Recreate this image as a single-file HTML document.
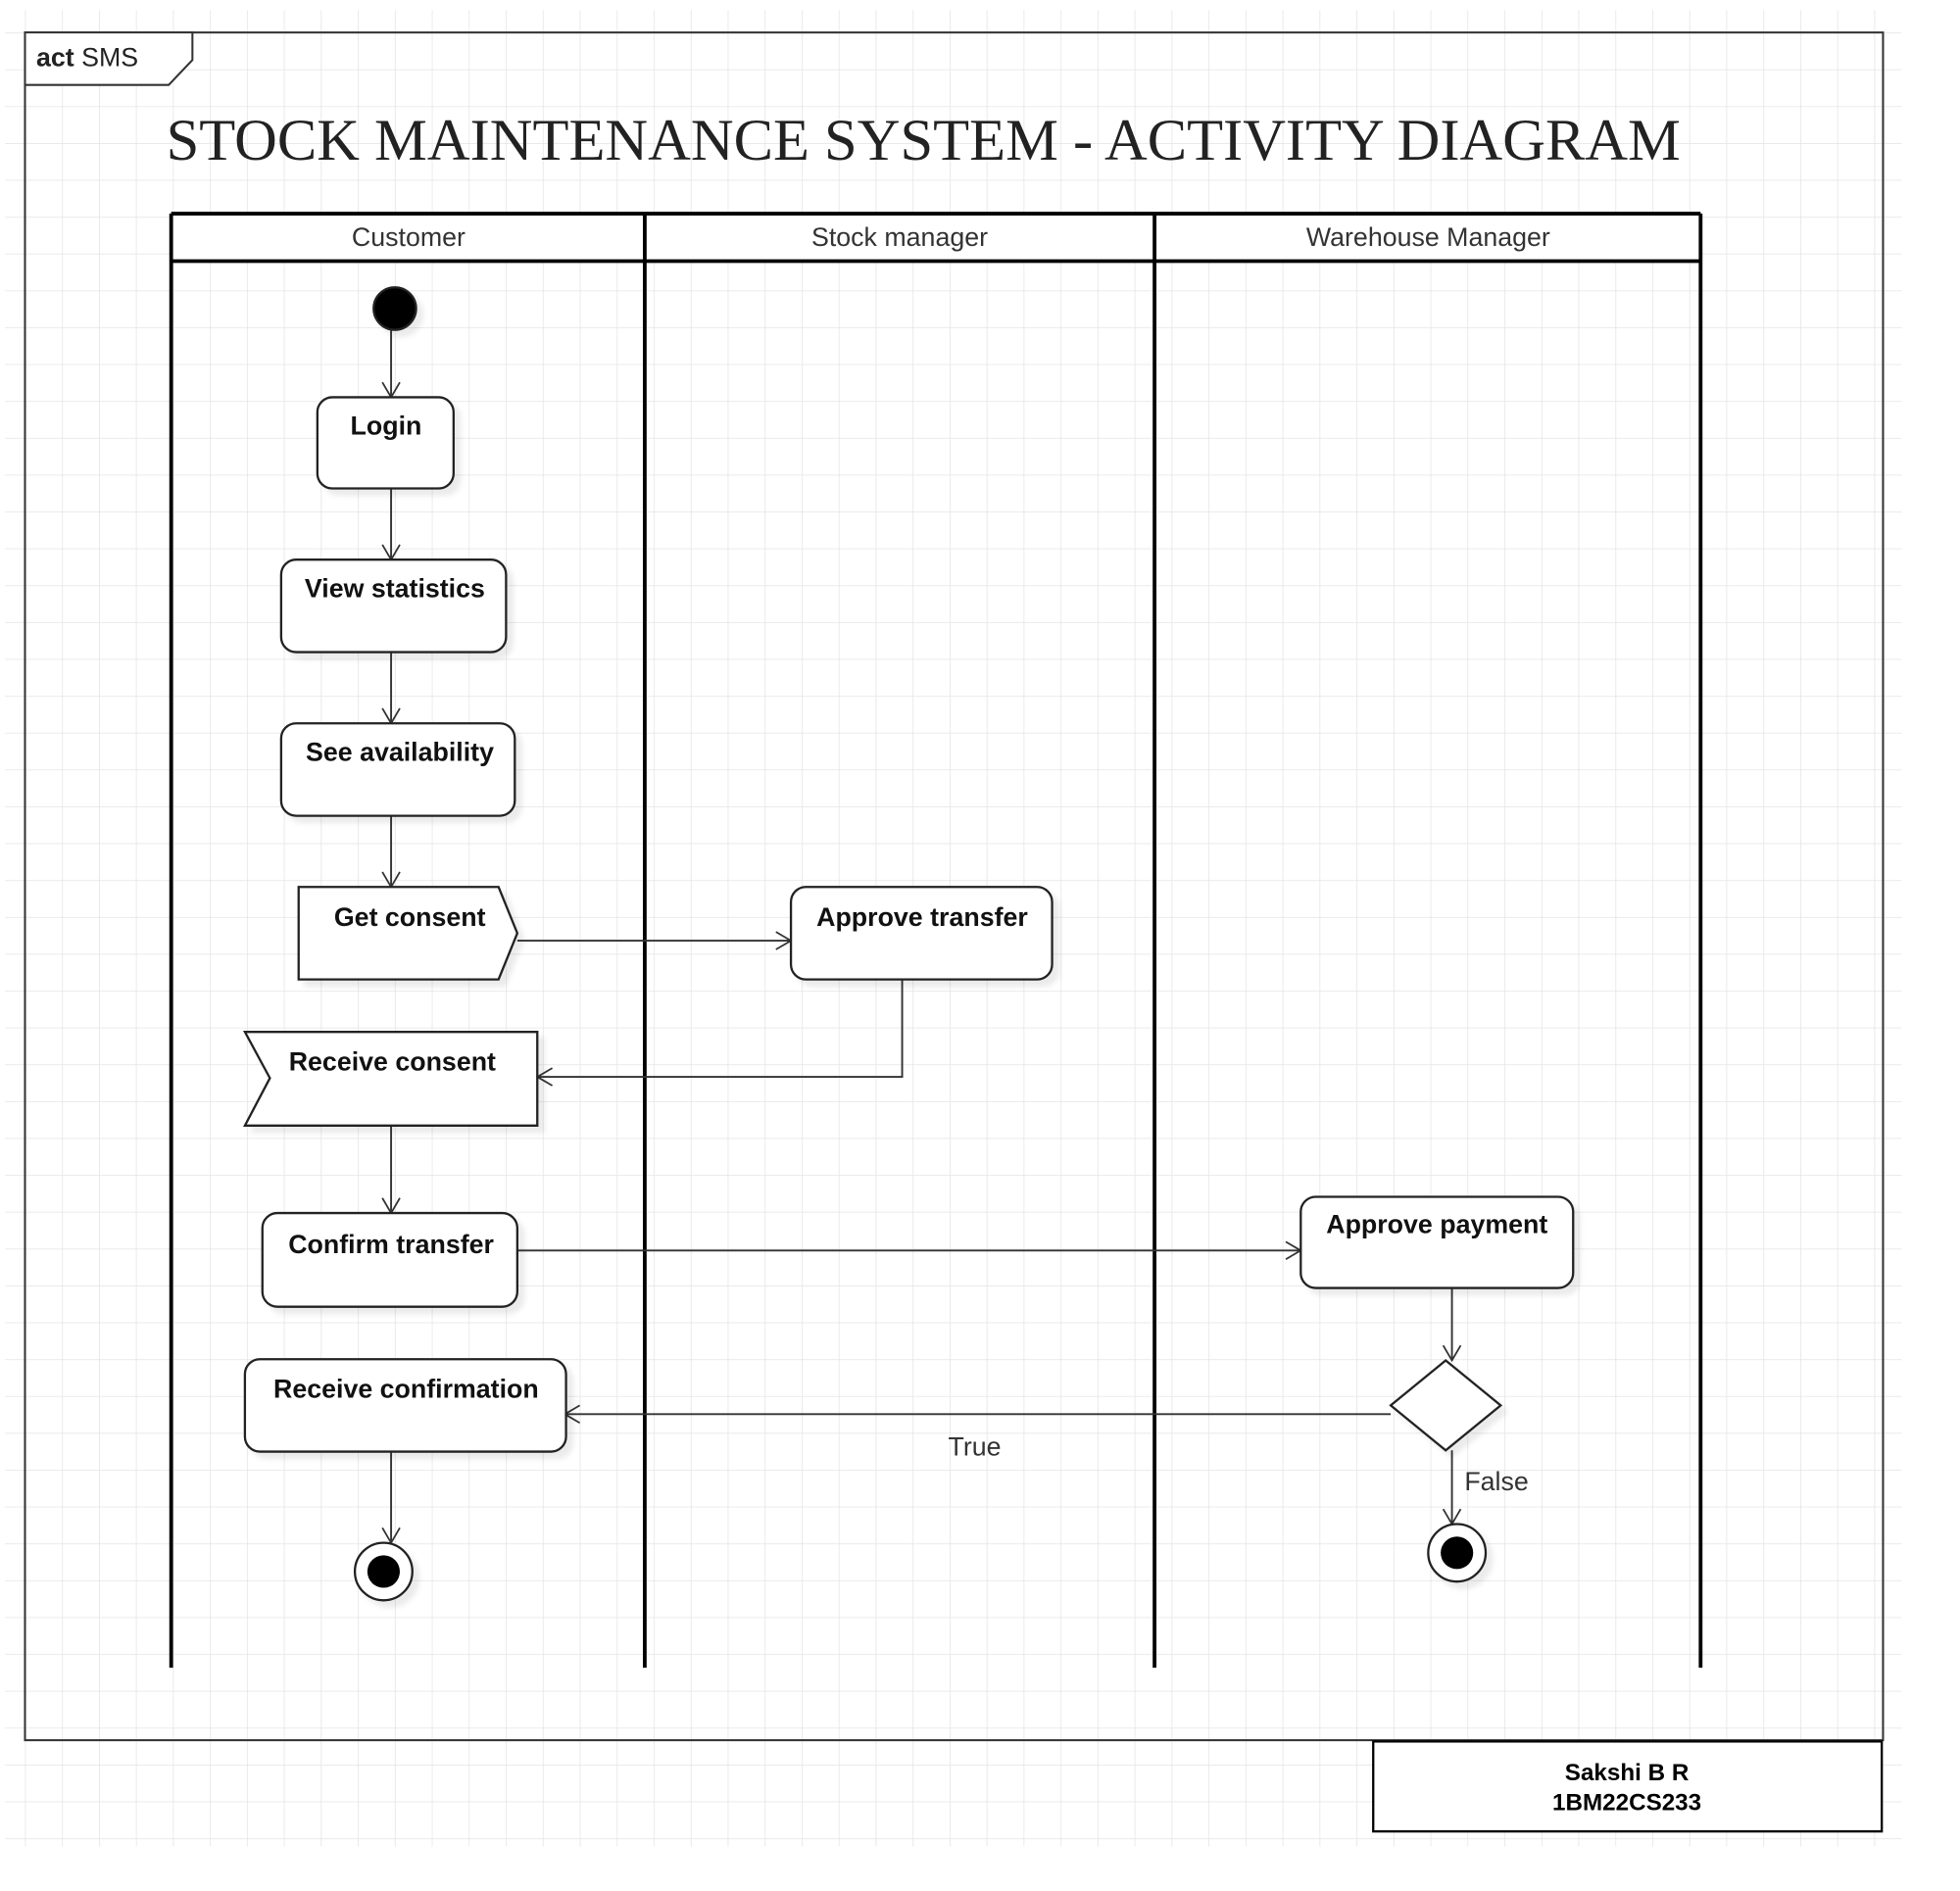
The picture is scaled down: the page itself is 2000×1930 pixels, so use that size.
<!DOCTYPE html>
<html><head><meta charset="utf-8"><style>
html,body{margin:0;padding:0;background:#fff;}
svg{display:block;}
text{font-family:"Liberation Sans",sans-serif;}
</style></head><body>
<svg width="2000" height="1930" viewBox="0 0 1568.6 1513.7" xmlns="http://www.w3.org/2000/svg">
<defs>
<pattern id="g" x="20" y="26" width="29.6" height="29.5" patternUnits="userSpaceOnUse">
<path d="M0 0V29.5M0 0H29.6" stroke="#e4e4e4" stroke-width="1.2" fill="none"/>
</pattern>
<marker id="a" markerWidth="16" markerHeight="16" refX="14" refY="8" orient="auto" markerUnits="userSpaceOnUse">
<path d="M2 1L14 8L2 15" fill="none" stroke="#333" stroke-width="1.4"/>
</marker>
<filter id="s" x="-20%" y="-20%" width="150%" height="150%">
<feDropShadow dx="5" dy="5" stdDeviation="2" flood-color="#000" flood-opacity="0.08"/>
</filter>
</defs>
<rect x="4" y="8" width="1518" height="1470" fill="url(#g)"/>
<rect x="20" y="26" width="1487" height="1367" fill="none" stroke="#333" stroke-width="1.6"/>
<path d="M20 26H154V48L135 68H20Z" fill="#fff" stroke="#333" stroke-width="1.6"/>
<text x="29" y="53" font-size="21" fill="#222"><tspan font-weight="bold">act</tspan> SMS</text>
<text x="133" y="128" font-family="Liberation Serif,serif" font-size="47" fill="#222" textLength="1212" lengthAdjust="spacingAndGlyphs" style="font-family:'Liberation Serif',serif">STOCK MAINTENANCE SYSTEM - ACTIVITY DIAGRAM</text>
<!-- swimlanes -->
<rect x="137" y="171" width="1224" height="38" fill="#fff"/>
<g stroke="#000" stroke-width="3" fill="none">
<path d="M137 171H1361M137 209H1361"/>
<path d="M137 171V1335M516 171V1335M924 171V1335M1361 171V1335"/>
</g>
<g font-size="21" fill="#333" text-anchor="middle">
<text x="327" y="197">Customer</text>
<text x="720" y="197">Stock manager</text>
<text x="1143" y="197">Warehouse Manager</text>
</g>
<!-- connectors -->
<g stroke="#333" stroke-width="1.5" fill="none" marker-end="url(#a)">
<path d="M313 262V318"/>
<path d="M313 391V448"/>
<path d="M313 522V579"/>
<path d="M313 653V710"/>
<path d="M414 753H633"/>
<path d="M722 784V862H430"/>
<path d="M313 901V971"/>
<path d="M414 1001H1041"/>
<path d="M1162 1031V1089"/>
<path d="M1113 1132H452"/>
<path d="M313 1162V1235"/>
<path d="M1162 1161V1220"/>
</g>
<!-- nodes -->
<g fill="#fff" stroke="#222" stroke-width="1.8" filter="url(#s)">
<circle cx="316" cy="247" r="17" fill="#000"/>
<rect x="254" y="318" width="109" height="73" rx="12"/>
<rect x="225" y="448" width="180" height="74" rx="12"/>
<rect x="225" y="579" width="187" height="74" rx="12"/>
<path d="M239 710H399L414 747L399 784H239Z"/>
<rect x="633" y="710" width="209" height="74" rx="12"/>
<path d="M196 826H430V901H196L216 863Z"/>
<rect x="210" y="971" width="204" height="75" rx="12"/>
<rect x="1041" y="958" width="218" height="73" rx="12"/>
<path d="M1157 1089L1201 1125L1157 1161L1113 1125Z"/>
<rect x="196" y="1088" width="257" height="74" rx="12"/>
<circle cx="307" cy="1258" r="23"/>
<circle cx="1166" cy="1243" r="23"/>
</g>
<circle cx="307" cy="1258" r="13" fill="#000"/>
<circle cx="1166" cy="1243" r="13" fill="#000"/>
<g font-size="21" font-weight="bold" fill="#111" text-anchor="middle">
<text x="309" y="348">Login</text>
<text x="316" y="478">View statistics</text>
<text x="320" y="609">See availability</text>
<text x="328" y="741">Get consent</text>
<text x="738" y="741">Approve transfer</text>
<text x="314" y="857">Receive consent</text>
<text x="313" y="1003">Confirm transfer</text>
<text x="1150" y="987">Approve payment</text>
<text x="325" y="1119">Receive confirmation</text>
</g>
<text x="780" y="1165" font-size="21" fill="#333" text-anchor="middle">True</text>
<text x="1172" y="1193" font-size="21" fill="#333">False</text>
<rect x="1099" y="1394" width="407" height="72" fill="#fff" stroke="#000" stroke-width="1.8"/>
<g font-size="19" font-weight="bold" fill="#000" text-anchor="middle">
<text x="1302" y="1425">Sakshi B R</text>
<text x="1302" y="1449">1BM22CS233</text>
</g>
</svg>
</body></html>
